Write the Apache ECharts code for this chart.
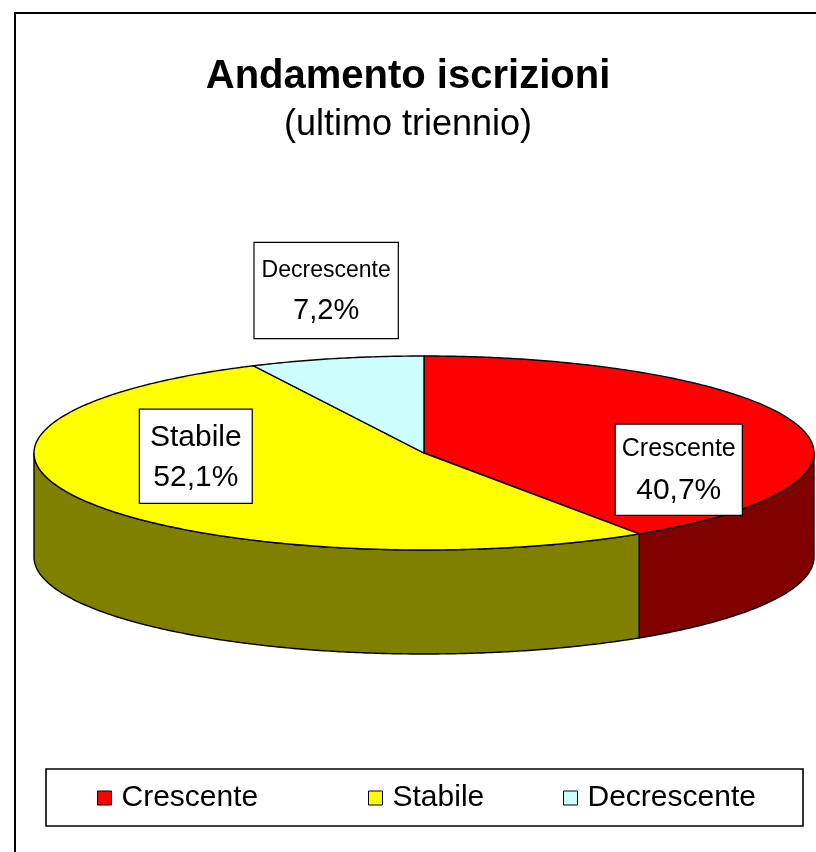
<!DOCTYPE html>
<html><head><meta charset="utf-8">
<script src="https://cdn.jsdelivr.net/npm/echarts@6/dist/echarts.min.js"></script>
<style>html,body{margin:0;padding:0;background:#fff}#c{width:816px;height:852px}</style>
</head><body><div id="c"></div>
<script>
// ---- data ----
const categories = ['Crescente', 'Stabile', 'Decrescente'];
const values = [40.7, 52.1, 7.2];
const titleText = 'Andamento iscrizioni';
const subtitleText = '(ultimo triennio)';

// ---- styles / layout ----
const topColors = ['#FF0000', '#FFFF00', '#CCFFFF'];
const sideColors = ['#800000', '#808000', '#669999'];
const FONT = '"Liberation Sans", Arial, Helvetica, sans-serif';
const geo = { cx: 424, cy: 453, rx: 390, ry: 97, depth: 104, labelFrac: 0.65 };
const labelCfg = [
  { nameSize: 25, pctSize: 30, nameLH: 40, pctLH: 44, pad: [4, 6, 2, 6], dx: 12, dy: 35 },
  { nameSize: 30, pctSize: 30, nameLH: 36, pctLH: 44, pad: [10, 10, 3, 10], dx: -8, dy: -28 },
  { nameSize: 23, pctSize: 29, nameLH: 34, pctLH: 46, pad: [11, 7, 4, 7], dx: -41, dy: -101 }
];
const legendLeft = [97, 368, 563];

const total = values.reduce((a, b) => a + b, 0);
const starts = [];
(function () { let acc = 0; values.forEach(v => { starts.push(acc / total * 2 * Math.PI); acc += v; }); })();
function span(i) { return [starts[i], starts[i] + values[i] / total * 2 * Math.PI]; }
function pt(t, dz) { return [geo.cx + geo.rx * Math.sin(t), geo.cy - geo.ry * Math.cos(t) + (dz || 0)]; }
function arc(a, b, dz) {
  const n = Math.max(2, Math.ceil(Math.abs(b - a) / (Math.PI / 360)));
  const pts = [];
  for (let k = 0; k <= n; k++) pts.push(pt(a + (b - a) * k / n, dz));
  return pts;
}
function fmtPct(v) { return (v / total * 100).toFixed(1).replace('.', ',') + '%'; }

function makeRender(i) {
  return function (params, api) {
    const [a, b] = span(i);
    const children = [];
    const s = Math.max(a, Math.PI / 2), e = Math.min(b, 3 * Math.PI / 2);
    if (s < e) {
      const side = arc(s, e, 0).concat(arc(s, e, geo.depth).reverse());
      children.push({ type: 'polygon', shape: { points: side }, z2: 1,
        style: { fill: sideColors[i], stroke: '#000', lineWidth: 1.4 } });
    }
    const top = [[geo.cx, geo.cy]].concat(arc(a, b, 0));
    children.push({ type: 'polygon', shape: { points: top }, z2: 2,
      style: { fill: api.visual('color'), stroke: '#000', lineWidth: 1.4 } });
    const m = (a + b) / 2;
    const c = labelCfg[i];
    const lx = geo.cx + geo.rx * geo.labelFrac * Math.sin(m) + c.dx;
    const ly = geo.cy - geo.ry * geo.labelFrac * Math.cos(m) + c.dy;
    children.push({ type: 'text', z2: 10, style: {
      x: lx, y: ly, align: 'center', verticalAlign: 'middle',
      text: '{n|' + categories[i] + '}\n{p|' + fmtPct(values[i]) + '}',
      rich: {
        n: { fontSize: c.nameSize, lineHeight: c.nameLH, fontFamily: FONT, fill: '#000', align: 'center' },
        p: { fontSize: c.pctSize, lineHeight: c.pctLH, fontFamily: FONT, fill: '#000', align: 'center' }
      },
      fontFamily: FONT, fill: '#000',
      backgroundColor: '#fff', borderColor: '#000', borderWidth: 1.2, padding: c.pad
    } });
    return { type: 'group', children: children };
  };
}

const series = categories.map((name, i) => ({
  type: 'custom', name: name, coordinateSystem: 'none',
  itemStyle: { color: topColors[i] },
  data: [values[i]],
  renderItem: makeRender(i),
  animation: false, silent: true
}));

const legends = categories.map((name, i) => ({
  data: [name], left: legendLeft[i], top: 783, padding: 0,
  icon: 'rect', itemWidth: 14, itemHeight: 14, itemGap: 8,
  itemStyle: { borderColor: '#000', borderWidth: 1 },
  textStyle: { fontSize: 30, fontFamily: FONT, color: '#000', padding: [0, 0, 0, 5] },
  selectedMode: false
}));

const chart = echarts.init(document.getElementById('c'), null, { renderer: 'canvas' });
chart.setOption({
  backgroundColor: '#fff',
  animation: false,
  title: [
    { text: titleText, left: 'center', top: 52,
      textStyle: { fontSize: 40, fontWeight: 'bold', fontFamily: FONT, color: '#000' } },
    { text: subtitleText, left: 'center', top: 102,
      textStyle: { fontSize: 36, fontWeight: 'normal', fontFamily: FONT, color: '#000' } }
  ],
  legend: legends,
  graphic: [
    { type: 'rect', shape: { x: 15, y: 13, width: 1000, height: 1000 }, silent: true,
      style: { fill: 'none', stroke: '#000', lineWidth: 2 } },
    { type: 'rect', shape: { x: 46, y: 769, width: 757, height: 57 }, silent: true,
      style: { fill: 'none', stroke: '#000', lineWidth: 1.6 } }
  ],
  series: series
});
</script></body></html>
